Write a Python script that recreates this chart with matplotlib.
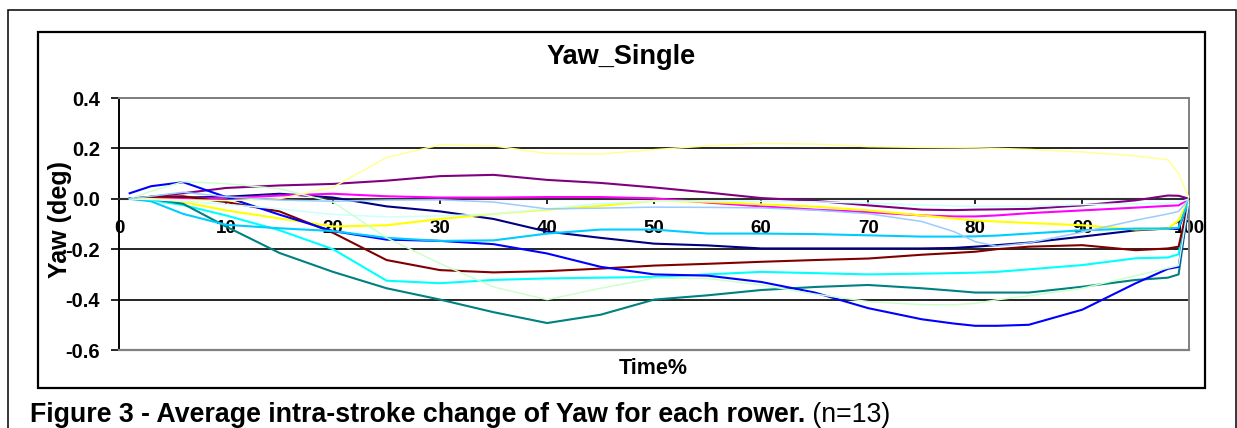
import matplotlib
matplotlib.use("Agg")
import matplotlib.pyplot as plt
from matplotlib.patches import Rectangle

# ─────────────────────────────────────────────
# DATA  (Yaw in deg vs % of stroke)
# ─────────────────────────────────────────────
time_pct = [1, 3, 6, 10, 15, 20, 25, 30, 35, 40, 45, 50, 55, 60, 65,
            70, 75, 78, 80, 82, 85, 90, 95, 98, 99, 100]

rower_01 = [0, 0.003, 0.005, 0.008, 0.02, 0.005, -0.03, -0.05, -0.08, -0.13, -0.155, -0.178, -0.185,
            -0.197, -0.197, -0.197, -0.197, -0.195, -0.19, -0.184, -0.174, -0.15, -0.125, -0.118, -0.12, 0]
rower_02 = [0, 0.003, 0.0, 0.003, 0.013, 0.02, 0.01, 0.005, 0.005, 0.007, 0.007, 0.002, -0.015,
            -0.03, -0.043, -0.053, -0.066, -0.07, -0.07, -0.066, -0.057, -0.046, -0.035, -0.028, -0.026, 0]
rower_03 = [0, -0.003, -0.013, -0.046, -0.078, -0.11, -0.105, -0.08, -0.06, -0.043, -0.028, -0.008, -0.012,
            -0.022, -0.031, -0.046, -0.066, -0.078, -0.086, -0.09, -0.096, -0.105, -0.122, -0.118, -0.085, 0]
rower_04 = [0, -0.005, -0.025, -0.066, -0.125, -0.2, -0.325, -0.335, -0.322, -0.316, -0.313, -0.31, -0.3,
            -0.29, -0.295, -0.3, -0.297, -0.295, -0.293, -0.29, -0.28, -0.263, -0.236, -0.233, -0.22, 0]
rower_05 = [0, 0.008, 0.022, 0.043, 0.053, 0.059, 0.072, 0.09, 0.095, 0.075, 0.063, 0.045, 0.025,
            0.003, -0.008, -0.026, -0.043, -0.045, -0.043, -0.042, -0.04, -0.026, -0.006, 0.013, 0.012, 0]
rower_06 = [0, 0.008, 0.01, -0.013, -0.05, -0.135, -0.243, -0.283, -0.292, -0.287, -0.277, -0.265, -0.258,
            -0.25, -0.243, -0.237, -0.222, -0.215, -0.21, -0.2, -0.19, -0.184, -0.204, -0.197, -0.19, 0]
rower_07 = [0, 0.0, -0.02, -0.11, -0.215, -0.29, -0.355, -0.4, -0.45, -0.493, -0.46, -0.4, -0.383,
            -0.362, -0.35, -0.342, -0.355, -0.365, -0.372, -0.372, -0.372, -0.349, -0.322, -0.313, -0.3, 0]
rower_08 = [0.022, 0.05, 0.066, 0.007, -0.063, -0.128, -0.162, -0.167, -0.18, -0.217, -0.27, -0.3, -0.305,
            -0.33, -0.372, -0.434, -0.478, -0.495, -0.504, -0.504, -0.5, -0.44, -0.335, -0.278, -0.27, 0]
rower_09 = [0, -0.01, -0.06, -0.103, -0.117, -0.128, -0.155, -0.167, -0.165, -0.138, -0.122, -0.122, -0.138,
            -0.138, -0.14, -0.145, -0.15, -0.15, -0.149, -0.146, -0.138, -0.125, -0.118, -0.118, -0.115, 0]
rower_10 = [0, -0.003, -0.01, -0.022, -0.04, -0.062, -0.072, -0.068, -0.06, -0.04, -0.018, -0.01, -0.008,
            -0.01, -0.012, -0.017, -0.025, -0.028, -0.03, -0.03, -0.03, -0.023, -0.02, -0.017, -0.015, 0]
rower_11 = [0, 0.03, 0.068, 0.06, 0.04, -0.013, -0.155, -0.257, -0.35, -0.4, -0.355, -0.315, -0.316,
            -0.342, -0.378, -0.408, -0.42, -0.421, -0.415, -0.401, -0.385, -0.355, -0.305, -0.275, -0.265, 0]
rower_12 = [0, 0.0, -0.004, -0.007, 0.0, 0.046, 0.164, 0.214, 0.21, 0.18, 0.178, 0.195, 0.21,
            0.22, 0.217, 0.207, 0.204, 0.203, 0.202, 0.2, 0.196, 0.186, 0.17, 0.155, 0.1, 0]
rower_13 = [0, 0.01, 0.026, 0.008, -0.005, -0.01, -0.005, -0.004, -0.013, -0.04, -0.037, -0.033, -0.034,
            -0.036, -0.045, -0.059, -0.09, -0.13, -0.17, -0.188, -0.175, -0.132, -0.085, -0.06, -0.05, 0]

rowers = [rower_01, rower_02, rower_03, rower_04, rower_05, rower_06, rower_07,
          rower_08, rower_09, rower_10, rower_11, rower_12, rower_13]

y_ticks = [-0.6, -0.4, -0.2, 0.0, 0.2, 0.4]
x_ticks = [0, 10, 20, 30, 40, 50, 60, 70, 80, 90, 100]

# Excel default line-series palette
colors = ["#000080", "#FF00FF", "#FFFF00", "#00FFFF", "#800080", "#800000", "#008080",
          "#0000FF", "#00CCFF", "#CCFFFF", "#CCFFCC", "#FFFF99", "#99CCFF"]
pale = {"#CCFFFF", "#CCFFCC", "#FFFF99", "#99CCFF"}

# ─────────────────────────────────────────────
# FIGURE
# ─────────────────────────────────────────────
plt.rcParams["font.family"] = ["Liberation Sans", "DejaVu Sans"]

W, H = 1237, 428
fig = plt.figure(figsize=(W / 100, H / 100), dpi=100)

def px_box(x0, y0, x1, y1):
    # pixel box (top-left origin) -> figure fraction rect
    return [x0 / W, 1 - y1 / H, (x1 - x0) / W, (y1 - y0) / H]

# outer page frame + chart area frame
fig.patches.append(Rectangle((8 / W, 1 - 445 / H), (1236 - 8) / W, (445 - 10) / H,
                             transform=fig.transFigure, fill=False, ec="black", lw=1.1))
fig.patches.append(Rectangle((38 / W, 1 - 388 / H), (1205 - 38) / W, (388 - 32) / H,
                             transform=fig.transFigure, fill=False, ec="black", lw=1.6))

ax = fig.add_axes(px_box(119, 98, 1189.3, 350))

for vals, c in zip(rowers, colors):
    ax.plot(time_pct, vals, color=c, lw=1.1 if c in pale else 1.5, zorder=3)

ax.set_xlim(0, 100)
ax.set_ylim(-0.6, 0.4)
ax.set_xticks(x_ticks)
ax.set_yticks(y_ticks)
ax.set_yticklabels([f"{v:.1f}" for v in y_ticks])

ax.set_axisbelow(True)
ax.grid(axis="y", color="black", lw=1.2)
ax.grid(axis="x", visible=False)

for s in ("top", "right"):
    ax.spines[s].set_color("#808080")
    ax.spines[s].set_linewidth(1.4)
ax.spines["left"].set_color("black")
ax.spines["left"].set_linewidth(1.4)
ax.spines["bottom"].set_position(("data", 0))
ax.spines["bottom"].set_color("#303030")
ax.spines["bottom"].set_linewidth(1.5)
ax.spines["bottom"].set_zorder(2.5)
ax.plot([0, 1], [0, 0], transform=ax.transAxes, color="#808080", lw=1.6,
        clip_on=False, zorder=2.6)

ax.tick_params(axis="y", direction="out", length=5.8, width=1.2, pad=8,
               labelsize=14.5)
ax.tick_params(axis="x", direction="out", length=3.6, width=1.2, pad=12,
               labelsize=13.5)
for lab in ax.get_xticklabels() + ax.get_yticklabels():
    lab.set_fontweight("bold")

# titles / labels in pixel positions
fig.text(621.5 / W, 1 - 63.5 / H, "Yaw_Single", ha="center", va="baseline",
         fontsize=19.5, fontweight="bold")
fig.text(60 / W, 1 - 219 / H, "Yaw (deg)", ha="center", va="center",
         rotation=90, fontsize=18, fontweight="bold")
fig.text(653 / W, 1 - 374 / H, "Time%", ha="center", va="baseline",
         fontsize=15.5, fontweight="bold")

cap = fig.text(30 / W, 1 - 422.5 / H,
               "Figure 3 - Average intra-stroke change of Yaw for each rower.",
               ha="left", va="baseline", fontsize=19.3, fontweight="bold")
fig.canvas.draw()
bb = cap.get_window_extent()
fig.text(bb.x1 / W, 1 - 422.5 / H, " (n=13)", ha="left", va="baseline", fontsize=19.3)

fig.savefig("out.png", dpi=100)
